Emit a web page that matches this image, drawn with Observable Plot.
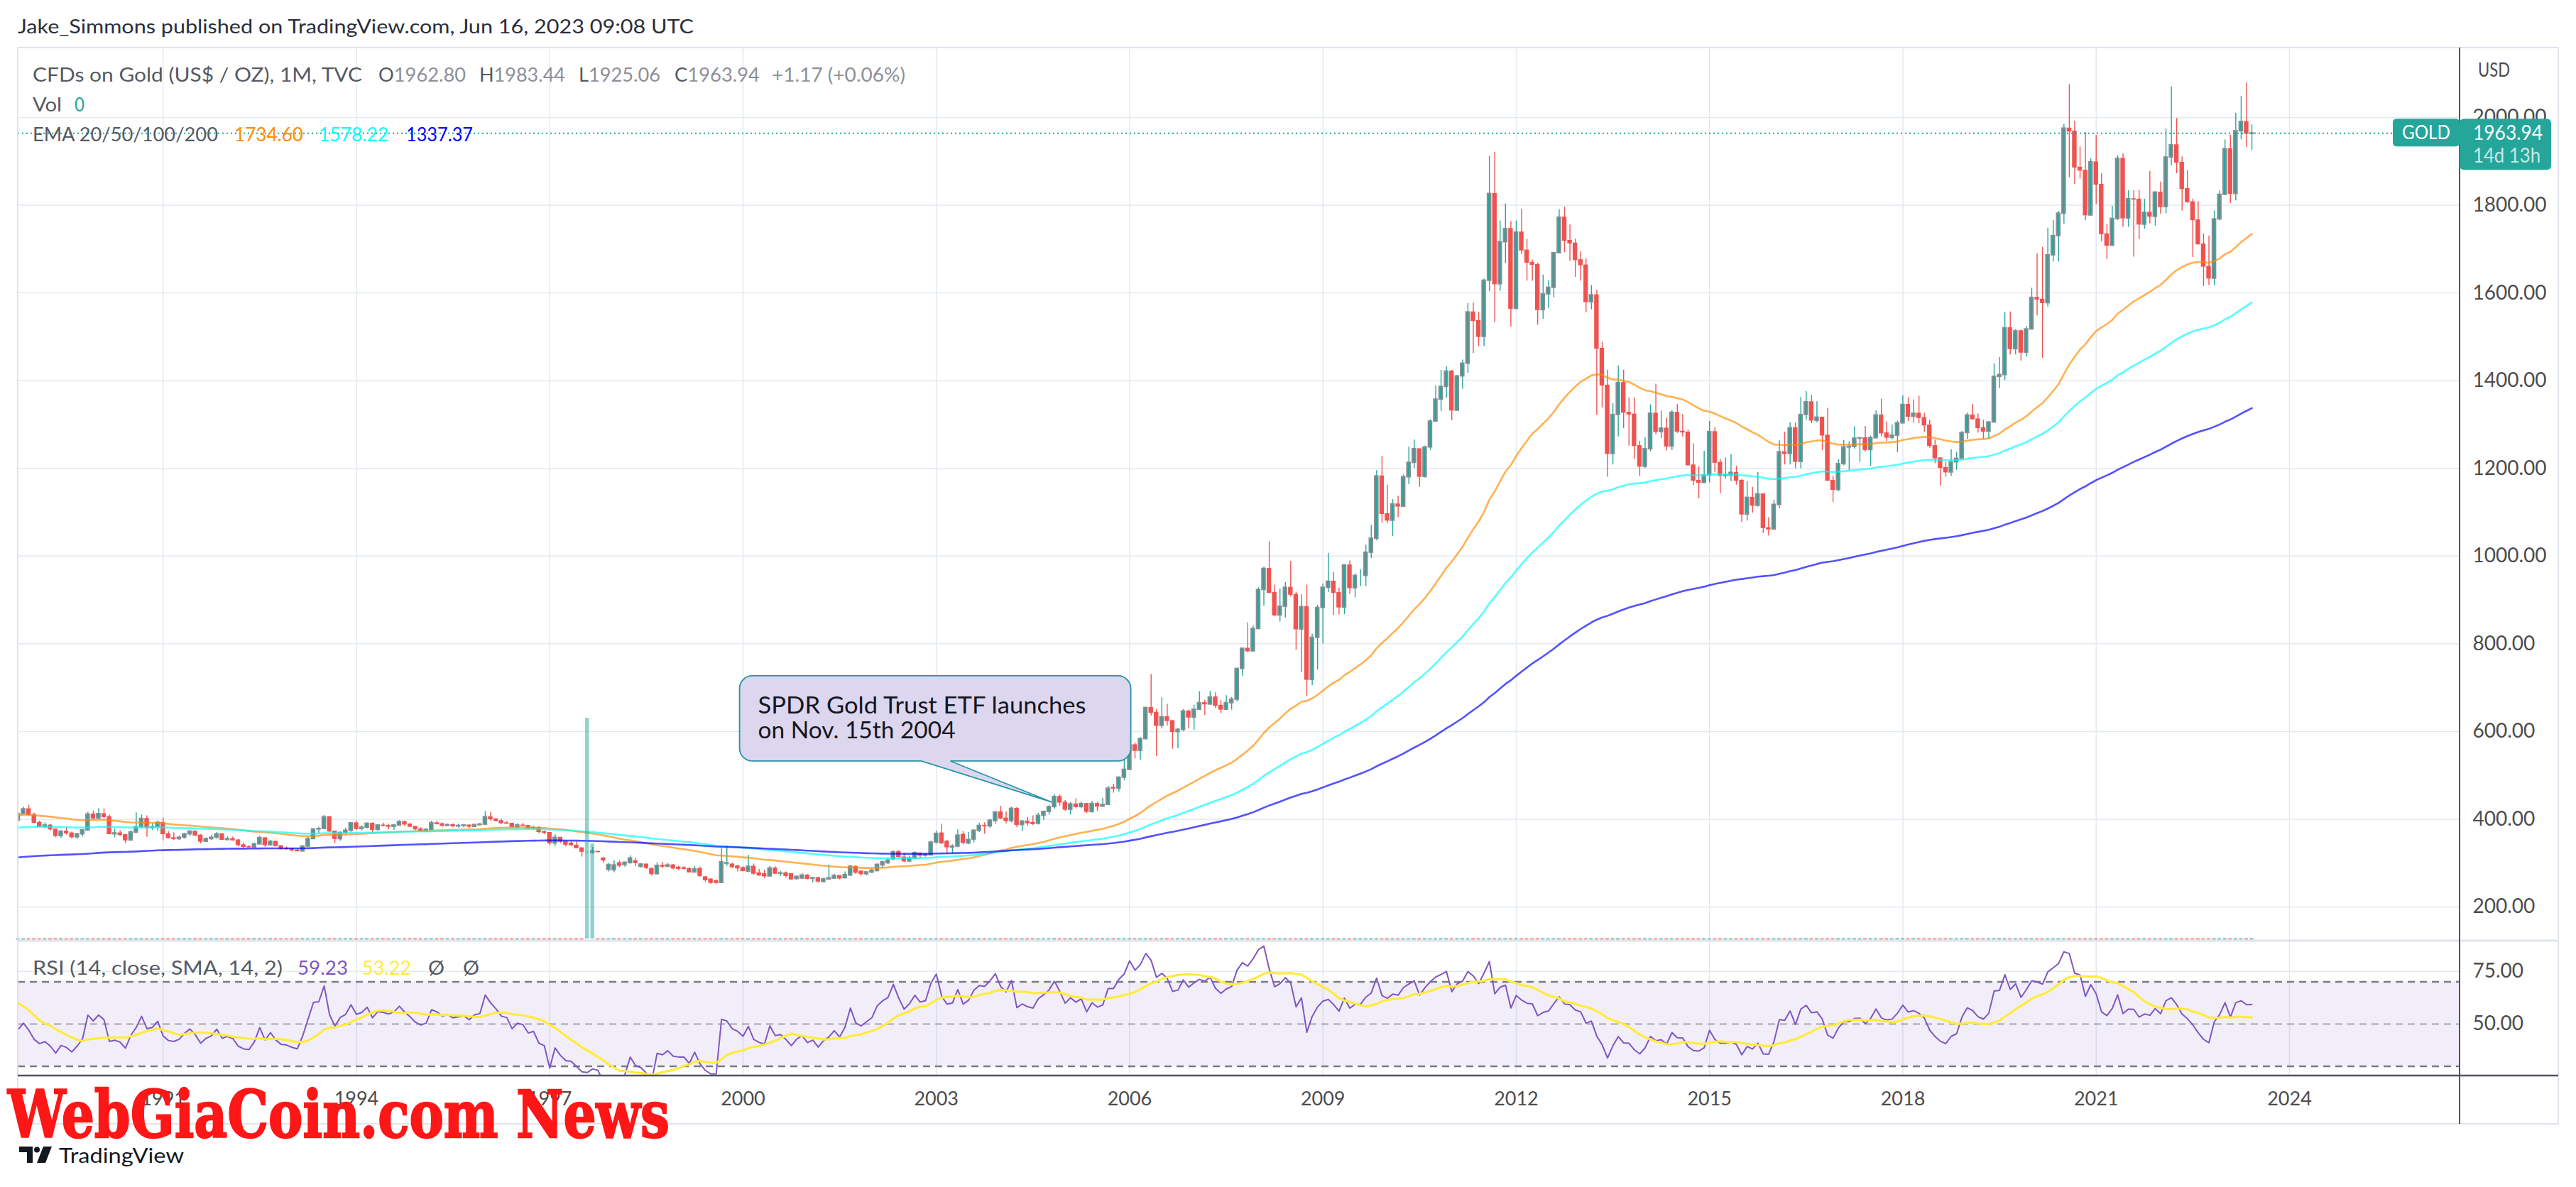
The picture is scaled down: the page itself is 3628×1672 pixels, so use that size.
<!DOCTYPE html>
<html><head><meta charset="utf-8">
<script src="https://cdn.jsdelivr.net/npm/d3@7"></script>
<script src="https://cdn.jsdelivr.net/npm/@observablehq/plot@0.6"></script>
<style>
html,body{margin:0;padding:0;background:#fff;overflow:hidden;}
#page{position:relative;width:3628px;height:1672px;overflow:hidden;background:#fff;}
#page svg{position:absolute;left:0;}
</style></head><body><div id="page"></div>
<script>
// ---------- DATA (monthly candles of TVC:GOLD, first month Jan 1986) ----------
const firstYear = 1986;
const opens = [
327,350,339,345,340,343,346,357,385,424,402,385,
391,401,406,421,453,452,447,462,455,459,467,492,
484,458,427,456,451,452,437,437,430,397,412,423,
410,392,383,386,377,362,372,368,359,366,375,411,
402,412,405,366,368,364,352,370,382,401,380,382,
392,366,357,355,358,366,372,363,349,355,358,366,
353,355,352,341,337,336,343,357,341,349,339,333,
332,329,327,338,355,377,378,405,372,355,369,374,
391,378,381,390,376,386,385,383,386,394,388,383,
377,374,376,391,389,385,387,384,385,386,383,387,
388,405,400,396,391,390,382,386,385,379,380,371,
369,345,358,349,345,340,334,325,324,326,311,285,
284,300,296,300,305,292,297,287,275,294,292,295,
290,289,287,279,287,268,263,259,255,299,297,293,
289,281,292,277,275,270,288,276,277,275,264,265,
272,265,266,257,263,265,271,266,272,292,281,275,
279,282,295,300,309,325,313,304,311,322,317,318,
347,368,349,336,338,365,345,354,374,385,384,396,
416,402,396,424,387,395,392,390,408,417,428,451,
438,422,434,428,435,417,435,429,433,472,470,495,
513,569,556,583,654,643,613,633,624,599,604,646,
632,650,665,662,678,659,650,665,673,743,789,783,
834,923,971,916,865,885,928,912,833,884,718,814,
882,928,942,916,883,979,927,955,955,1008,1040,1182,
1096,1081,1118,1113,1180,1213,1244,1181,1248,1307,1357,1386,
1421,1332,1410,1439,1556,1536,1500,1628,1826,1620,1716,1746,
1564,1738,1697,1669,1664,1561,1597,1612,1691,1772,1719,1713,
1675,1663,1579,1595,1473,1389,1233,1322,1395,1327,1323,1251,
1204,1244,1325,1283,1291,1250,1327,1284,1282,1207,1172,1167,
1184,1283,1213,1183,1184,1190,1172,1095,1133,1115,1141,1064,
1061,1117,1237,1233,1292,1215,1322,1351,1309,1316,1275,1172,
1151,1210,1248,1249,1268,1269,1242,1269,1321,1280,1270,1275,
1303,1345,1318,1325,1315,1298,1251,1223,1201,1191,1214,1222,
1281,1321,1312,1292,1284,1305,1409,1413,1520,1472,1513,1464,
1517,1589,1585,1577,1686,1730,1781,1975,1968,1886,1879,1777,
1898,1847,1734,1708,1769,1906,1770,1814,1813,1756,1783,1774,
1829,1796,1909,1937,1897,1837,1807,1766,1711,1660,1633,1768,
1824,1928,1826,1969,1990,1962.80
];
const highs = [
356,351,351,348,347,350,362,387,442,432,412,393,
414,411,422,478,479,455,474,470,465,482,500,502,
486,459,456,458,458,458,444,442,432,417,428,432,
414,396,392,388,378,374,382,371,368,376,416,419,
424,424,410,378,374,366,374,415,410,408,390,396,
403,372,369,362,368,374,374,365,358,363,370,368,
360,360,354,346,340,346,362,358,352,350,340,337,
334,333,340,359,378,382,409,407,373,371,380,392,
395,385,392,392,388,392,389,388,397,396,391,384,
381,379,396,396,392,389,390,389,388,388,389,391,
418,416,402,400,395,391,390,391,386,384,383,373,
370,365,358,349,350,348,335,326,336,327,313,299,
306,305,303,317,311,299,298,289,301,302,300,297,
293,292,290,292,291,270,264,262,333,339,300,295,
292,318,298,286,284,293,292,281,280,275,271,276,
274,268,268,266,296,275,272,280,295,293,282,281,
287,299,305,311,328,329,322,316,326,324,322,350,
373,389,352,342,376,372,370,377,391,392,400,417,
430,417,428,427,397,404,408,414,419,432,456,456,
443,438,447,439,436,441,439,448,475,480,497,541,
572,574,587,655,730,650,677,662,626,608,650,649,
660,691,672,692,689,671,682,678,744,790,848,841,
928,975,1033,934,925,940,988,918,912,934,822,888,
937,1006,963,927,981,989,960,969,1025,1070,1195,1227,
1162,1129,1137,1185,1249,1265,1244,1251,1311,1388,1424,1432,
1424,1412,1447,1576,1577,1556,1632,1911,1921,1764,1803,1763,
1764,1791,1722,1675,1668,1641,1628,1693,1790,1796,1755,1723,
1694,1678,1617,1606,1488,1424,1348,1434,1424,1361,1361,1262,
1270,1345,1392,1331,1315,1332,1346,1323,1288,1256,1204,1239,
1307,1293,1220,1224,1232,1205,1175,1170,1157,1191,1142,1088,
1128,1263,1283,1304,1303,1362,1375,1367,1352,1317,1337,1182,
1220,1264,1261,1295,1270,1296,1274,1331,1358,1306,1299,1308,
1366,1361,1356,1365,1326,1310,1265,1225,1214,1243,1237,1284,
1326,1346,1324,1310,1306,1439,1453,1555,1557,1517,1516,1524,
1611,1689,1704,1748,1765,1786,1984,2075,1992,1933,1966,1906,
1959,1872,1756,1798,1913,1917,1833,1834,1834,1814,1877,1831,
1853,1974,2070,1998,1910,1879,1814,1808,1735,1730,1787,1833,
1949,1960,2010,2048,2079,1983.44
];
const lows = [
327,333,327,332,337,337,340,352,383,400,381,384,
390,398,399,420,447,442,447,450,450,456,463,478,
456,425,426,446,446,437,425,425,395,395,410,407,
390,383,378,373,358,357,364,355,355,360,373,399,
399,402,366,358,361,345,351,368,378,359,375,373,
351,356,352,352,355,360,361,344,347,352,355,352,
351,350,337,333,333,335,342,336,339,337,330,330,
326,326,326,336,354,367,378,370,345,350,365,370,
375,374,378,368,373,382,376,375,384,384,381,374,
372,372,374,387,382,383,381,380,381,379,382,385,
387,396,394,388,389,380,380,384,377,376,367,365,
340,338,345,337,338,333,314,323,320,324,300,280,
278,290,291,299,292,289,286,271,273,288,290,285,
283,285,278,278,268,257,252,252,254,293,288,280,
280,279,273,270,265,269,275,270,266,261,261,264,
262,255,255,255,261,264,262,264,270,274,270,271,
276,281,288,297,306,312,301,301,309,310,314,316,
344,343,320,322,335,342,342,346,370,366,380,389,
399,390,392,381,372,385,386,387,397,410,423,430,
418,410,424,424,413,414,418,428,432,460,462,488,
513,538,535,581,636,543,606,613,560,561,600,606,
603,650,637,660,653,641,648,649,668,726,780,783,
834,886,915,862,850,859,907,786,735,681,705,741,
800,917,865,866,867,913,905,931,931,995,1035,1075,
1075,1045,1088,1112,1163,1200,1157,1178,1241,1307,1330,1360,
1309,1330,1381,1417,1462,1478,1478,1603,1532,1604,1667,1523,
1562,1688,1627,1627,1527,1540,1565,1589,1690,1692,1672,1636,
1627,1555,1562,1321,1338,1180,1208,1272,1291,1251,1221,1182,
1200,1238,1277,1268,1240,1241,1280,1271,1206,1161,1131,1167,
1167,1191,1143,1175,1170,1162,1077,1080,1098,1112,1052,1046,
1061,1108,1208,1208,1199,1199,1310,1302,1304,1241,1171,1123,
1147,1206,1195,1244,1214,1237,1205,1268,1272,1261,1265,1236,
1302,1307,1303,1302,1282,1246,1211,1160,1180,1182,1196,1221,
1266,1310,1281,1266,1266,1305,1382,1400,1459,1459,1445,1454,
1517,1548,1451,1568,1671,1671,1757,1863,1848,1860,1765,1776,
1802,1717,1677,1706,1765,1750,1750,1682,1722,1746,1758,1753,
1780,1781,1890,1872,1787,1805,1681,1709,1615,1617,1617,1765,
1823,1804,1810,1950,1932,1925.06
];
const closes = [
350,339,345,340,343,346,357,385,424,402,385,391,
401,406,421,453,452,447,462,455,459,467,492,484,
458,427,456,451,452,437,437,430,397,412,423,410,
392,383,386,377,362,372,368,359,366,375,411,402,
412,405,366,368,364,352,370,382,401,380,382,392,
366,357,355,358,366,372,363,349,355,358,366,353,
355,352,341,337,336,343,357,341,349,339,333,332,
329,327,338,355,377,378,405,372,355,369,374,391,
378,381,390,376,386,385,383,386,394,388,383,377,
374,376,391,389,385,387,384,385,386,383,387,388,
405,400,396,391,390,382,386,385,379,380,371,369,
345,358,349,342,341,334,326,325,327,325,306,296,
295,294,301,311,300,297,289,275,294,292,295,288,
287,287,279,286,271,261,255,255,302,300,291,288,
282,292,276,272,270,288,276,277,271,263,269,272,
264,266,258,263,266,271,265,273,292,278,275,279,
283,296,302,306,325,314,304,311,323,317,319,347,
367,345,336,338,363,346,353,374,385,384,397,416,
402,396,424,387,395,391,389,408,417,428,451,438,
422,434,428,435,417,435,429,433,470,470,495,513,
569,556,583,654,643,613,633,624,599,604,646,632,
650,665,662,678,659,650,665,673,743,789,783,834,
923,971,916,865,885,928,912,833,884,718,814,882,
928,942,916,883,979,927,955,955,1008,1040,1182,1096,
1081,1118,1113,1180,1213,1244,1181,1248,1307,1357,1386,1421,
1332,1410,1439,1556,1536,1500,1628,1826,1620,1716,1746,1564,
1738,1697,1669,1664,1561,1597,1612,1691,1772,1719,1713,1675,
1663,1579,1595,1473,1389,1233,1322,1395,1327,1323,1251,1204,
1244,1325,1283,1291,1250,1327,1284,1282,1207,1172,1167,1184,
1283,1213,1183,1184,1190,1172,1095,1133,1115,1141,1064,1061,
1117,1237,1233,1292,1215,1322,1351,1309,1316,1275,1172,1151,
1210,1248,1249,1268,1269,1242,1269,1321,1280,1270,1275,1303,
1345,1318,1325,1315,1298,1251,1223,1201,1191,1214,1222,1281,
1321,1312,1292,1284,1305,1409,1413,1520,1472,1513,1464,1517,
1589,1585,1577,1686,1730,1781,1975,1968,1886,1879,1777,1898,
1847,1734,1708,1769,1906,1770,1814,1813,1756,1783,1774,1829,
1796,1909,1937,1897,1837,1807,1766,1711,1660,1633,1768,1824,
1928,1826,1969,1990,1963,1963.94
];
// volume pane (only two non-zero bars, relative units)
const volumeMonths = ["1997-08", "1997-09"];
const volumeValues = [100, 43];
// EMAs (orange / cyan / blue), starting values read at the left edge
const emaPeriods = [50, 100, 200];
const emaColors = ["#ff8c00", "#00ffff", "#0000ff"];
const emaSeedMonth = "1988-10";
const emaSeeds = [409, 381, 313];
// RSI settings
const rsiLength = 14, rsiSmaLength = 14;
const rsiBand = [30, 70];
// ticks
const priceTicks = [200, 400, 600, 800, 1000, 1200, 1400, 1600, 1800, 2000];
const yearTicks = [1991, 1994, 1997, 2000, 2003, 2006, 2009, 2012, 2015, 2018, 2021, 2024];
const rsiTicks = [50, 75];
// annotation
const etfMonth = "2004-11", etfPrice = 438;
const etfLines = ["SPDR Gold Trust ETF launches", "on Nov. 15th 2004"];

// ---------- view ----------
const xDomain = [-135, 319.74];       // months since Jan 2000 visible
const yDomain = [120.7, 2158.6];
const rsiDomain = [25.44, 89.35];
const FONT = "Lato, 'Noto Sans', sans-serif";
const gridColor = "#e3e9ef";
const upColor = "#26a69a", downColor = "#ef5350", upBorder = "#8a8d94";
const axisText = "#4c4c4c";

const monthIndex = s => { const [y, mo] = s.split("-").map(Number); return (y - 2000) * 12 + mo - 1; };
const firstMonth = (firstYear - 2000) * 12;
const N = closes.length;
const candles = closes.map((c, i) => ({m: firstMonth + i, o: opens[i], h: highs[i], l: lows[i], c, up: c >= opens[i]}));
const inView = d => d.m >= xDomain[0] - 0.5 && d.m <= xDomain[1];
const shown = candles.filter(inView);
const yearMonths = yearTicks.map(y => (y - 2000) * 12);
const lastClose = closes[N - 1];

// EMA series
const seedIdx = monthIndex(emaSeedMonth) - firstMonth;
const emaSeries = emaPeriods.map((p, k) => {
  const a = 2 / (p + 1); let v = emaSeeds[k];
  const out = [{m: candles[seedIdx].m, v}];
  for (let i = seedIdx + 1; i < N; i++) { v = a * closes[i] + (1 - a) * v; out.push({m: candles[i].m, v}); }
  return out;
});
// RSI (Wilder) + SMA
const rsi = new Array(N).fill(NaN);
{
  let ag = 0, al = 0;
  for (let i = 1; i <= rsiLength; i++) { const d = closes[i] - closes[i - 1]; ag += Math.max(d, 0); al += Math.max(-d, 0); }
  ag /= rsiLength; al /= rsiLength;
  rsi[rsiLength] = al === 0 ? 100 : 100 - 100 / (1 + ag / al);
  for (let i = rsiLength + 1; i < N; i++) {
    const d = closes[i] - closes[i - 1];
    ag = (ag * (rsiLength - 1) + Math.max(d, 0)) / rsiLength;
    al = (al * (rsiLength - 1) + Math.max(-d, 0)) / rsiLength;
    rsi[i] = al === 0 ? 100 : 100 - 100 / (1 + ag / al);
  }
}
const rsiSma = rsi.map((v, i) => i >= rsiLength + rsiSmaLength - 1 ? d3.mean(rsi.slice(i - rsiSmaLength + 1, i + 1)) : NaN);
const rsiRows = candles.map((d, i) => ({m: d.m, v: rsi[i]})).filter(d => !isNaN(d.v) && d.m >= xDomain[0] - 1);
const smaRows = candles.map((d, i) => ({m: d.m, v: rsiSma[i]})).filter(d => !isNaN(d.v) && d.m >= xDomain[0] - 1);
// volume rows
const volRows = shown.map(d => {
  const k = volumeMonths.findIndex(s => monthIndex(s) === d.m);
  return {m: d.m, v: k >= 0 ? volumeValues[k] : 0, up: d.up};
});

const page = document.getElementById("page");
const baseStyle = {background: "transparent", fontFamily: FONT, fontSize: "28px", color: axisText, overflow: "visible"};

// ---------- price pane ----------
const pricePlot = Plot.plot({
  width: 3628, height: 1326, marginLeft: 25, marginRight: 164, marginTop: 67, marginBottom: 0,
  x: {type: "linear", domain: xDomain, axis: null, label: null},
  y: {type: "linear", domain: yDomain, label: null},
  color: {type: "identity"},
  style: baseStyle,
  marks: [
    Plot.ruleX(yearMonths, {stroke: gridColor, strokeWidth: 1.5}),
    Plot.ruleY(priceTicks, {stroke: gridColor, strokeWidth: 1.5}),
    Plot.ruleX(shown, {x: "m", y1: "l", y2: "h", stroke: d => d.up ? upColor : downColor, strokeWidth: 1.4, clip: true}),
    Plot.rect(shown.filter(d => !d.up), {x1: d => d.m - 0.34, x2: d => d.m + 0.34, y1: d => Math.min(d.o, d.c), y2: d => Math.max(d.o, d.c),
      fill: downColor, stroke: downColor, strokeWidth: 1.2, clip: true}),
    Plot.rect(shown.filter(d => d.up), {x1: d => d.m - 0.3, x2: d => d.m + 0.3, y1: d => Math.min(d.o, d.c), y2: d => Math.max(d.o, d.c),
      fill: upColor, stroke: upBorder, strokeWidth: 2, clip: true}),
    ...emaSeries.map((s, k) => Plot.line(s, {x: "m", y: "v", stroke: emaColors[k], strokeOpacity: 0.68, strokeWidth: 2.6, clip: true})),
    Plot.ruleY([lastClose], {stroke: upColor, strokeWidth: 2, strokeDasharray: "2,4"}),
    Plot.axisY(priceTicks, {anchor: "right", tickSize: 0, tickPadding: 18, tickFormat: d => d.toFixed(2), fontSize: 28, label: null})
  ]
});
pricePlot.style.top = "0px";
page.appendChild(pricePlot);

// ---------- volume overlay ----------
const volPlot = Plot.plot({
  width: 3628, height: 1326, marginLeft: 25, marginRight: 164, marginTop: 1011, marginBottom: 4,
  x: {type: "linear", domain: xDomain, axis: null},
  y: {domain: [0, d3.max(volumeValues)], axis: null},
  color: {type: "identity"},
  style: {background: "transparent", overflow: "visible"},
  marks: [
    Plot.ruleY(volRows.filter(d => d.v === 0), {y: "v", x1: d => d.m - 0.33, x2: d => d.m + 0.33, stroke: d => d.up ? upColor : downColor, strokeOpacity: 0.5, strokeWidth: 3}),
    Plot.rect(volRows.filter(d => d.v > 0), {x1: d => d.m - 0.36, x2: d => d.m + 0.36, y1: 0, y2: "v", fill: upColor, fillOpacity: 0.5})
  ]
});
volPlot.style.top = "0px";
page.appendChild(volPlot);

// ---------- RSI pane ----------
const rsiPlot = Plot.plot({
  width: 3628, height: 258, marginLeft: 25, marginRight: 164, marginTop: 0, marginBottom: 68,
  x: {type: "linear", domain: xDomain, label: null},
  y: {type: "linear", domain: rsiDomain, label: null},
  style: baseStyle,
  marks: [
    Plot.ruleX(yearMonths, {stroke: gridColor, strokeWidth: 1.5}),
    Plot.ruleY([75], {stroke: gridColor, strokeWidth: 1.5}),
    Plot.rect([rsiBand], {y1: d => d[0], y2: d => d[1], fill: "#7e57c2", fillOpacity: 0.1}),
    Plot.ruleY(rsiBand, {stroke: "#787b86", strokeWidth: 2.5, strokeDasharray: "10,7"}),
    Plot.ruleY([50], {stroke: "#787b86", strokeOpacity: 0.5, strokeWidth: 2.5, strokeDasharray: "10,7"}),
    Plot.line(rsiRows, {x: "m", y: "v", stroke: "#7e57c2", strokeWidth: 2, clip: true}),
    Plot.line(smaRows, {x: "m", y: "v", stroke: "#ffeb3b", strokeWidth: 3.2, clip: true}),
    Plot.axisX(yearMonths, {anchor: "bottom", tickSize: 0, tickPadding: 22, tickFormat: m => String(2000 + m / 12), fontSize: 27, label: null}),
    Plot.axisY(rsiTicks, {anchor: "right", tickSize: 0, tickPadding: 18, tickFormat: d => d.toFixed(2), fontSize: 28, label: null})
  ]
});
rsiPlot.style.top = "1325px";
page.appendChild(rsiPlot);

// ---------- overlay: frame, legends, labels, annotation ----------
const xS = pricePlot.scale("x"), yS = pricePlot.scale("y");
const svg = d3.create("svg").attr("width", 3628).attr("height", 1672).style("top", "0px");
const line = (x1, y1, x2, y2, c, w) => svg.append("line").attr("x1", x1).attr("y1", y1).attr("x2", x2).attr("y2", y2).attr("stroke", c).attr("stroke-width", w);
svg.append("rect").attr("x", 25).attr("y", 67).attr("width", 3578).attr("height", 1516).attr("fill", "none").attr("stroke", "#e0e3eb").attr("stroke-width", 2);
line(25, 1325, 3603, 1325, "#e0e3eb", 3);
line(25, 1515, 3603, 1515, "#50535e", 2.5);
line(3464, 67, 3464, 1583, "#50535e", 2);

function txt(x, y, parts, size, len, opts = {}) {
  const t = svg.append("text").attr("x", x).attr("y", y).attr("font-size", size)
    .attr("font-family", opts.family || FONT).attr("font-weight", opts.weight || 400)
    .attr("text-anchor", opts.anchor || "start").style("white-space", "pre");
  if (len) t.attr("textLength", len).attr("lengthAdjust", "spacingAndGlyphs");
  if (opts.stroke) t.attr("stroke", opts.stroke).attr("stroke-width", opts.strokeWidth || 1);
  for (const [s, c] of parts) t.append("tspan").attr("fill", c).text(s);
  return t;
}
const mid = "#555a63", light = "#8d9098";

// annotation callout
{
  const tx = xS.apply(monthIndex(etfMonth)) - 3, ty = yS.apply(etfPrice);
  const L = tx - 440, R = tx + 111, T = ty - 178, B = ty - 58, r = 18, b1 = tx - 184, b2 = tx - 143;
  svg.append("path").attr("d",
    `M${L + r},${T} H${R - r} A${r},${r} 0 0 1 ${R},${T + r} V${B - r} A${r},${r} 0 0 1 ${R - r},${B} H${b2} L${tx},${ty} L${b1},${B} H${L + r} A${r},${r} 0 0 1 ${L},${B - r} V${T + r} A${r},${r} 0 0 1 ${L + r},${T} Z`)
    .attr("fill", "#ddd6ef").attr("stroke", "#2596a5").attr("stroke-width", 1.8);
  txt(L + 26, T + 53, [[etfLines[0], "#131722"]], 32, 462);
  txt(L + 26, T + 88, [[etfLines[1], "#131722"]], 32, 278);
}

// header + legends
txt(25, 47, [["Jake_Simmons published on TradingView.com, Jun 16, 2023 09:08 UTC", "#2a2e39"]], 27, 952);
txt(46, 115, [["CFDs on Gold (US$ / OZ), 1M, TVC", mid]], 26, 464);
txt(533, 115, [["O", mid], ["1962.80", light]], 26, 123);
txt(675, 115, [["H", mid], ["1983.44", light]], 26, 121);
txt(815, 115, [["L", mid], ["1925.06", light]], 26, 115);
txt(950, 115, [["C", mid], ["1963.94", light]], 26, 120);
txt(1087, 115, [["+1.17 (+0.06%)", light]], 26, 188);
txt(46, 157, [["Vol", mid]], 26, 41);
txt(105, 157, [["0", upColor]], 26, 14);
txt(46, 199, [["EMA 20/50/100/200", mid]], 26, 261);
txt(330, 199, [["1734.60", emaColors[0]]], 26, 97);
txt(449, 199, [["1578.22", emaColors[1]]], 26, 98);
txt(572, 199, [["1337.37", emaColors[2]]], 26, 94);
txt(46, 1373, [["RSI (14, close, SMA, 14, 2)", mid]], 27, 352);
txt(419, 1373, [["59.23", "#7e57c2"]], 27, 71);
txt(510, 1373, [["53.22", "#ffeb3b"]], 27, 69);
txt(603, 1373, [["Ø", mid]], 27, 23);
txt(652, 1373, [["Ø", mid]], 27, 23);
txt(3490, 108, [["USD", axisText]], 26, 45);

// last price labels
{
  const yc = yS.apply(lastClose);
  svg.append("rect").attr("x", 3370).attr("y", yc - 20).attr("width", 94).attr("height", 39).attr("rx", 5).attr("fill", upColor);
  svg.append("rect").attr("x", 3464).attr("y", yc - 20).attr("width", 129).attr("height", 72).attr("rx", 6).attr("fill", upColor);
  txt(3383, yc + 9, [["GOLD", "#ffffff"]], 26, 68);
  txt(3483, yc + 10, [[lastClose.toFixed(2), "#ffffff"]], 28, 98);
  txt(3483, yc + 42, [["14d 13h", "rgba(255,255,255,0.75)"]], 28, 95);
}

// watermark + TradingView logo
txt(11, 1602, [["WebGiaCoin.com News", "#ff1616"]], 92, 932, {family: "'DejaVu Serif', 'Liberation Serif', serif", weight: 700, stroke: "#ff1616", strokeWidth: 2.5});
{
  const g = svg.append("g").attr("fill", "#131722");
  g.append("path").attr("d", "M27,1615 H46 V1638 H38 V1623 H27 Z");
  g.append("circle").attr("cx", 52).attr("cy", 1619.5).attr("r", 4);
  g.append("path").attr("d", "M61,1615 H73 L64,1638 H52 Z");
  txt(83, 1638, [["TradingView", "#131722"]], 29, 176, {weight: 400});
}
page.appendChild(svg.node());
</script></body></html>
